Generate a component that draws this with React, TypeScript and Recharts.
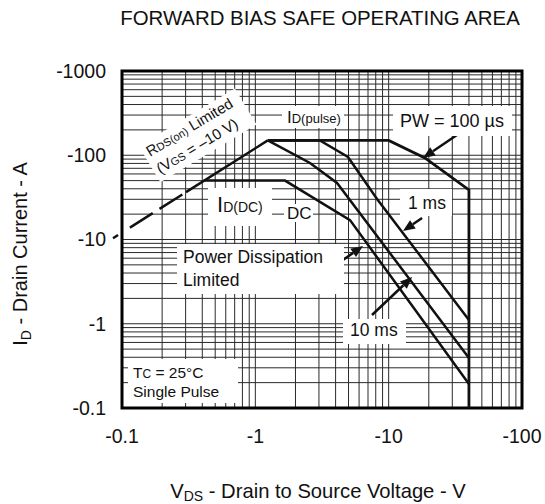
import { LineChart, Line, XAxis, YAxis, CartesianGrid, ReferenceArea, ReferenceLine } from 'recharts';

// log grid: every 1..9 step inside each decade
const xTicks = [
    0.1, 0.2, 0.3, 0.4, 0.5, 0.6, 0.7, 0.8, 0.9,
    1, 2, 3, 4, 5, 6, 7, 8, 9,
    10, 20, 30, 40, 50, 60, 70, 80, 90,
    100,
];
const yTicks = [
    0.1, 0.2, 0.3, 0.4, 0.5, 0.6, 0.7, 0.8, 0.9,
    1, 2, 3, 4, 5, 6, 7, 8, 9,
    10, 20, 30, 40, 50, 60, 70, 80, 90,
    100, 200, 300, 400, 500, 600, 700, 800, 900,
    1000,
];
const xMajor = [0.1, 1, 10, 100];
const yMajor = [0.1, 1, 10, 100, 1000];

// V (|VDS|) vs I (|ID|)
const rdsLimit = [
    { v: 0.302, i: 36.5 },
    { v: 1.24, i: 150 },
];
const dcCurve = [
    { v: 0.41, i: 50 },
    { v: 1.67, i: 50 },
    { v: 5.13, i: 17 },
    { v: 40, i: 0.193 },
];
const pulse10ms = [
    { v: 1.24, i: 150 },
    { v: 2.57, i: 80.9 },
    { v: 4.1, i: 46.9 },
    { v: 40, i: 0.392 },
];
const pulse1ms = [
    { v: 1.24, i: 150 },
    { v: 3.05, i: 150 },
    { v: 4.95, i: 95.3 },
    { v: 8.18, i: 30.3 },
    { v: 40, i: 1.11 },
];
const pulse100us = [
    { v: 1.24, i: 150 },
    { v: 10, i: 150 },
    { v: 18.7, i: 92.8 },
    { v: 40, i: 38.7 },
    { v: 40, i: 0.1 },
];

const font = '"Liberation Sans", Arial, Helvetica, sans-serif';
const ink = '#111';

const Arrow = (props: any) => {
    const { x1, y1, x2, y2 } = props;
    const a = Math.atan2(y2 - y1, x2 - x1);
    const len = 12;
    const w = 5;
    const bx = x2 - len * Math.cos(a);
    const by = y2 - len * Math.sin(a);
    const pts = `${x2},${y2} ${bx + w * Math.sin(a)},${by - w * Math.cos(a)} ${bx - w * Math.sin(a)},${by + w * Math.cos(a)}`;
    return (
        <g>
            <line x1={x1} y1={y1} x2={bx} y2={by} stroke={ink} strokeWidth={2.5} />
            <polygon points={pts} fill={ink} />
        </g>
    );
};

function Annotations() {
    return (
        <svg
            width={545}
            height={504}
            style={{ position: 'absolute', left: 0, top: 0, pointerEvents: 'none' }}
            fontFamily={font}
            fill={ink}
        >
            <text x={320} y={25} fontSize={20.4} textAnchor="middle">FORWARD BIAS SAFE OPERATING AREA</text>
            <text transform="translate(27,254) rotate(-90)" fontSize={20} textAnchor="middle">
                I<tspan fontSize={14} dy={4}>D</tspan><tspan dy={-4}> - Drain Current - A</tspan>
            </text>
            <text x={318} y={498} fontSize={20.2} textAnchor="middle">
                V<tspan fontSize={14} dy={3}>DS</tspan><tspan dy={-3}> - Drain to Source Voltage - V</tspan>
            </text>

            {/* white label backgrounds */}
            <g fill="#fff">
                <rect x={282} y={106} width={62} height={22} />
                <rect x={393} y={106} width={119} height={30} />
                <rect x={208} y={188} width={64} height={38} />
                <rect x={284} y={204} width={29} height={18} />
                <rect x={400} y={189} width={52} height={27} />
                <rect x={177} y={244} width={167} height={50} />
                <rect x={343} y={319} width={63} height={25} />
                <rect x={128} y={359} width={110} height={44} />
                <rect x={-4} y={-15} width={112} height={42} transform="translate(150,157) rotate(-31)" />
            </g>

            <g transform="translate(150,157) rotate(-31)" fontSize={15}>
                <text x={0} y={0}>
                    R<tspan fontSize={11}>DS(on)</tspan> Limited
                </text>
                <text x={0} y={20}>
                    (V<tspan fontSize={11}>GS</tspan> = –10 V)
                </text>
            </g>

            <text x={287} y={123} fontSize={17}>
                I<tspan fontSize={13}>D(pulse)</tspan>
            </text>
            <text x={400} y={127} fontSize={18}>PW = 100 µs</text>
            <text x={217} y={212} fontSize={22}>
                I<tspan fontSize={14}>D(DC)</tspan>
            </text>
            <text x={287} y={219} fontSize={17}>DC</text>
            <text x={408} y={209} fontSize={17.5}>1 ms</text>
            <text x={183} y={263} fontSize={17.5}>Power Dissipation</text>
            <text x={183} y={286} fontSize={17.5}>Limited</text>
            <text x={350} y={336} fontSize={17.5}>10 ms</text>
            <text x={133} y={378} fontSize={15.5}>
                T<tspan fontSize={12}>C</tspan> = 25°C
            </text>
            <text x={133} y={397} fontSize={15.5}>Single Pulse</text>
        </svg>
    );
}

export default function App() {
    const tickStyle = { fill: ink, fontSize: 19.5, fontFamily: font };
    return (
        <div style={{ position: 'absolute', left: 0, top: 0, width: 545, height: 504, background: '#fff' }}>
            <LineChart width={545} height={504} margin={{ top: 71, right: 23, bottom: 0, left: 0 }}>
                <CartesianGrid stroke="#2a2a2a" strokeWidth={1} />
                <XAxis
                    dataKey="v"
                    type="number"
                    scale="log"
                    domain={[0.1, 100]}
                    allowDataOverflow
                    ticks={xTicks}
                    interval={0}
                    height={96}
                    axisLine={false}
                    tickLine={false}
                    tickSize={0}
                    tickMargin={21}
                    tick={tickStyle}
                    tickFormatter={(v: number) => (xMajor.includes(v) ? `-${v}` : '')}
                />
                <YAxis
                    dataKey="i"
                    type="number"
                    scale="log"
                    domain={[0.1, 1000]}
                    allowDataOverflow
                    ticks={yTicks}
                    interval={0}
                    width={122}
                    axisLine={false}
                    tickLine={false}
                    tickSize={0}
                    tickMargin={16}
                    tick={tickStyle}
                    tickFormatter={(v: number) => (yMajor.includes(v) ? `-${v}` : '')}
                />
                <ReferenceArea x1={0.1} x2={100} y1={0.1} y2={1000} fill="none" stroke="#000" strokeWidth={3} />

                {/* dashed start of the RDS(on) limit, runs a bit past the frame */}
                <ReferenceLine
                    segment={[{ x: 0.0856, y: 10.35 }, { x: 0.29, y: 35 }]}
                    ifOverflow="visible"
                    stroke={ink}
                    strokeWidth={2.5}
                    strokeDasharray="6 14 27 8 27 40"
                />
                <Line data={rdsLimit} dataKey="i" stroke={ink} strokeWidth={2.5} dot={false} isAnimationActive={false} />
                <Line data={dcCurve} dataKey="i" stroke={ink} strokeWidth={2.5} dot={false} isAnimationActive={false} />
                <Line data={pulse10ms} dataKey="i" stroke={ink} strokeWidth={2.5} dot={false} isAnimationActive={false} />
                <Line data={pulse1ms} dataKey="i" stroke={ink} strokeWidth={2.5} dot={false} isAnimationActive={false} />
                <Line data={pulse100us} dataKey="i" stroke={ink} strokeWidth={2.8} dot={false} isAnimationActive={false} />

                <ReferenceLine segment={[{ x: 32.5, y: 174 }, { x: 18.1, y: 92.7 }]} shape={Arrow} />
                <ReferenceLine segment={[{ x: 17.8, y: 18 }, { x: 12.8, y: 12.6 }]} shape={Arrow} />
                <ReferenceLine segment={[{ x: 4.54, y: 5.71 }, { x: 6.42, y: 8.37 }]} shape={Arrow} />
                <ReferenceLine segment={[{ x: 7.5, y: 1.27 }, { x: 15, y: 3.59 }]} shape={Arrow} />
            </LineChart>
            <Annotations />
        </div>
    );
}
